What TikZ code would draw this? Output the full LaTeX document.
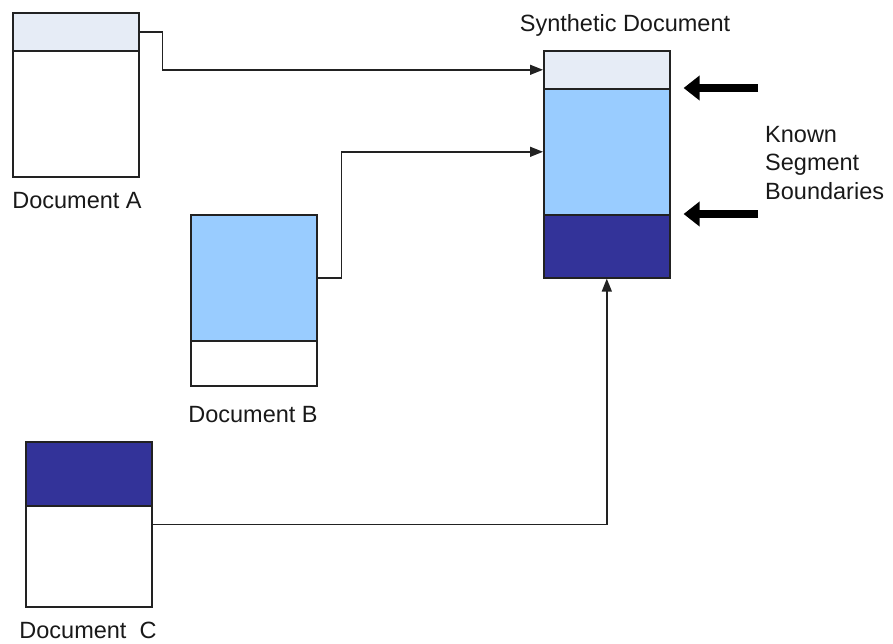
\documentclass[tikz,border=0pt]{standalone}
\usepackage{fontspec}
\setmainfont{Liberation Sans}
\usetikzlibrary{arrows.meta}
\definecolor{paleband}{HTML}{E6ECF6}
\definecolor{skyband}{HTML}{99CCFF}
\definecolor{navyband}{HTML}{333399}
\definecolor{edge}{HTML}{222222}
\begin{document}
\begin{tikzpicture}[x=1pt,y=-1pt,
  box/.style={draw=edge, line width=1.6pt, rectangle, inner sep=0pt,
    minimum width=126pt, anchor=north west},
  lbl/.style={inner sep=0pt, anchor=base, text=black!90,
    font=\fontsize{23.5}{29}\selectfont},
  lblw/.style={lbl, anchor=base west},
  conn/.style={draw=edge, line width=1.4pt,
    -{Triangle[length=13pt,width=10pt]}},
  bigarrow/.style={draw=black, line width=8pt,
    -{Triangle[length=16pt,width=24pt]}}]
\useasboundingbox (0,0) rectangle (893,643);

% Document A
\node[box, fill=white, minimum height=164pt] (A) at (12,12) {};
\node[box, fill=paleband, minimum height=38pt] (Aband) at (12,12) {};
\node[lbl] (Alab) at (77,208) {Document A};

% Document B
\node[box, fill=white, minimum height=171pt] (B) at (190,214) {};
\node[box, fill=skyband, minimum height=126pt] (Bband) at (190,214) {};
\node[lbl] (Blab) at (253,422) {Document B};

% Document C
\node[box, fill=white, minimum height=165pt] (C) at (25,441) {};
\node[box, fill=navyband, minimum height=64pt] (Cband) at (25,441) {};
\node[lbl] (Clab) at (88,638) {Document\ \ C};

% Synthetic document built from the three segments
\node[box, fill=paleband, minimum height=38pt] (Stop) at (543,50) {};
\node[box, fill=skyband, minimum height=126pt] (Smid) at (543,88) {};
\node[box, fill=navyband, minimum height=63pt] (Sbot) at (543,214) {};
\node[lbl] (Slab) at (625,31.5) {Synthetic Document};

% Segment connectors
\draw[conn] (Aband.east) -- ++(23,0) |- (Stop.west);
\draw[conn] (Bband.east) -- ++(24,0) |- (Smid.west);
\draw[conn] (C.east) -| (Sbot.south);

% Boundary markers
\coordinate (k1) at (758,88);
\coordinate (k2) at (758,214);
\draw[bigarrow, shorten >=13pt] (k1) -- (Smid.north east);
\draw[bigarrow, shorten >=13pt] (k2) -- (Sbot.north east);
\node[lblw] (Klab1) at (765,142) {Known};
\node[lblw] (Klab2) at (765,170.5) {Segment};
\node[lblw] (Klab3) at (765,199) {Boundaries};
\end{tikzpicture}
\end{document}
